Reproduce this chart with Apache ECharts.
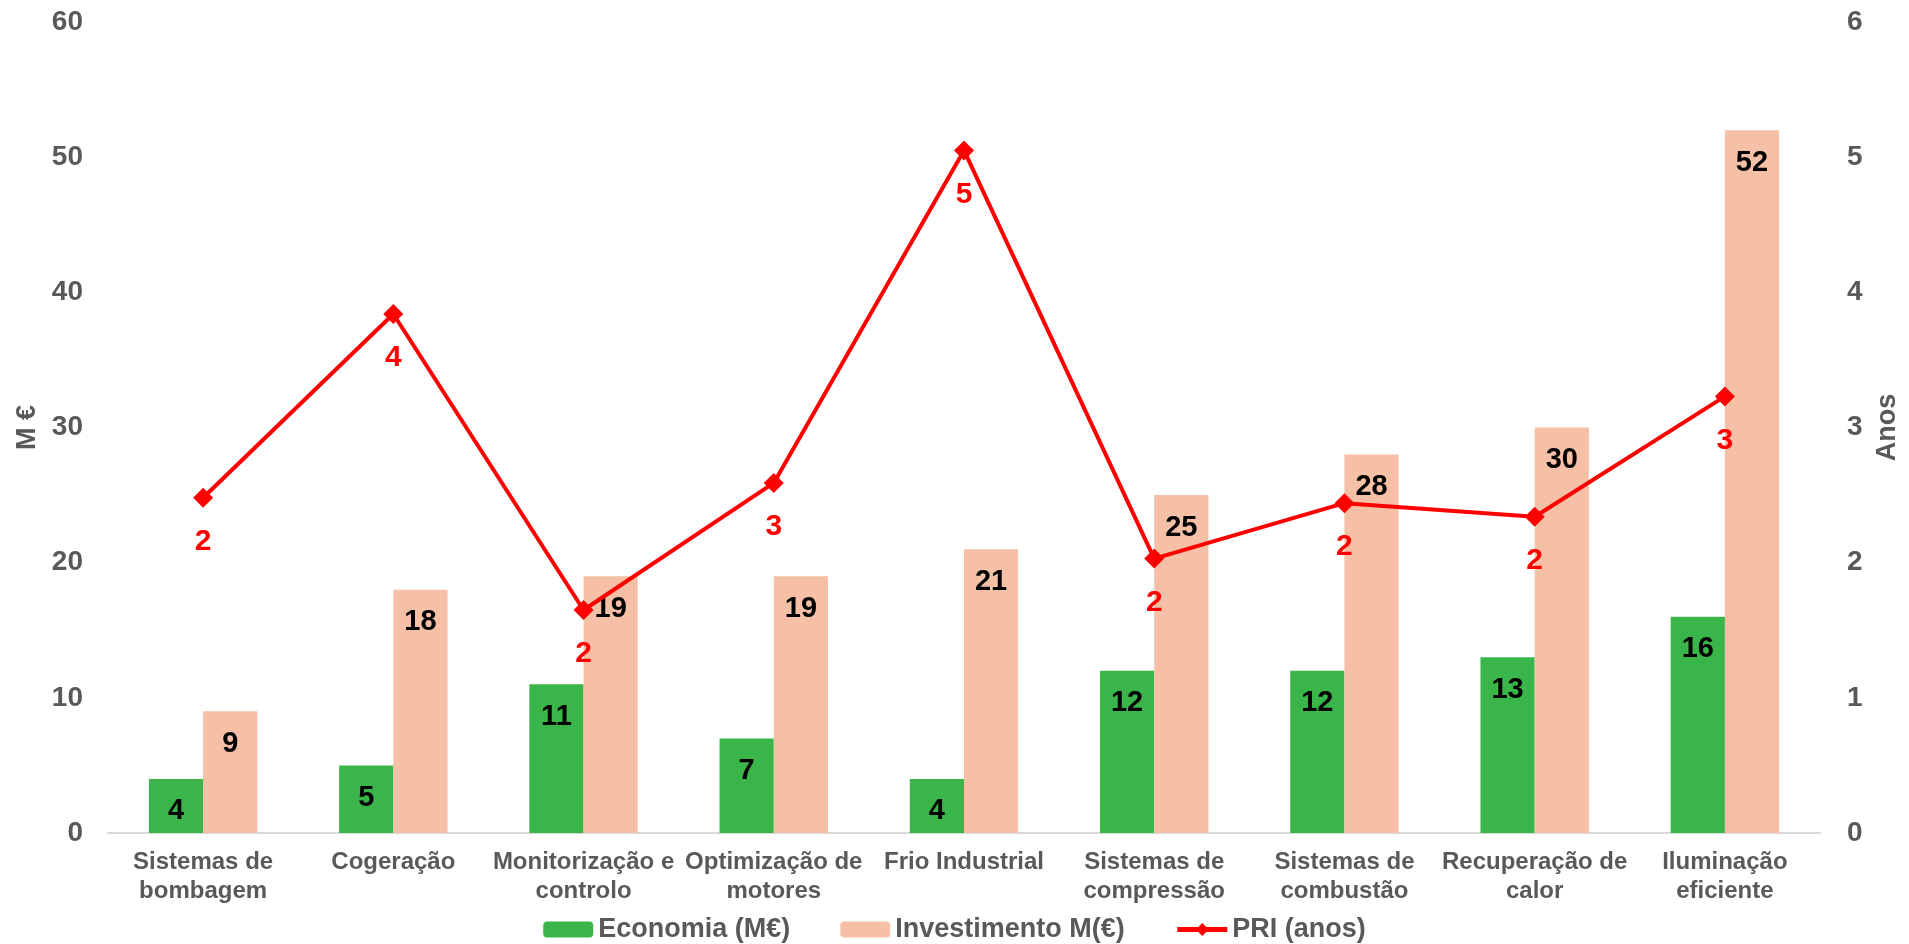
<!DOCTYPE html>
<html>
<head>
    <meta charset="utf-8">
    <title>Economia, Investimento e PRI</title>
    <script src="https://cdn.jsdelivr.net/npm/echarts@6/dist/echarts.min.js"></script>
    <style>
        html, body { margin: 0; padding: 0; background: #fff; }
    </style>
</head>
<body>
  <div id="main" style="width: 1909px;height:944px;"></div>

  <script>
      // dados
      var categorias = ['Sistemas de\nbombagem', 'Cogeração', 'Monitorização e\ncontrolo', 'Optimização de\nmotores',
          'Frio Industrial', 'Sistemas de\ncompressão', 'Sistemas de\ncombustão', 'Recuperação de\ncalor', 'Iluminação\neficiente'];
      var economia = [4, 5, 11, 7, 4, 12, 12, 13, 16];
      var investimento = [9, 18, 19, 19, 21, 25, 28, 30, 52];
      var pri = [2.48, 3.84, 1.65, 2.59, 5.05, 2.03, 2.44, 2.34, 3.23];

      var fonte = 'Arial, "Liberation Sans", sans-serif';
      var cinza = '#595959';

      var myChart = echarts.init(document.getElementById('main'));

      var option = {
          textStyle: { fontFamily: fonte },
          grid: { left: 108, right: 88, top: 22, bottom: 111 },
          legend: {
              top: 911,
              itemWidth: 50,
              itemHeight: 16,
              itemGap: 50,
              textStyle: { fontSize: 27, fontWeight: 'bold', color: cinza, fontFamily: fonte },
              data: ['Economia (M€)', 'Investimento M(€)',
                  { name: 'PRI (anos)', lineStyle: { width: 5 }, itemStyle: { color: '#FF0000' } }]
          },
          xAxis: {
              type: 'category',
              data: categorias,
              axisTick: { show: false },
              axisLine: { lineStyle: { color: '#D9D9D9', width: 2 } },
              axisLabel: {
                  interval: 0, margin: 15, fontSize: 24, fontWeight: 'bold',
                  color: cinza, lineHeight: 29, fontFamily: fonte
              }
          },
          yAxis: [{
              type: 'value', min: 0, max: 60, interval: 10,
              name: 'M €', nameLocation: 'middle', nameGap: 64, nameRotate: 90,
              nameTextStyle: { fontSize: 27, fontWeight: 'bold', color: cinza, fontFamily: fonte },
              splitLine: { show: false },
              axisLine: { show: false },
              axisLabel: { fontSize: 28, fontWeight: 'bold', color: cinza, margin: 25, fontFamily: fonte }
          }, {
              type: 'value', min: 0, max: 6, interval: 1,
              name: 'Anos', nameLocation: 'middle', nameGap: 54, nameRotate: 90,
              nameTextStyle: { fontSize: 27, fontWeight: 'bold', color: cinza, fontFamily: fonte },
              splitLine: { show: false },
              axisLine: { show: false },
              axisLabel: { fontSize: 28, fontWeight: 'bold', color: cinza, margin: 27, fontFamily: fonte }
          }],
          series: [{
              name: 'Economia (M€)',
              type: 'bar',
              data: economia,
              barGap: '0%',
              barCategoryGap: '43%',
              itemStyle: { color: '#39B54A' },
              label: {
                  show: true, position: 'insideTop', distance: 18,
                  fontSize: 29, fontWeight: 'bold', color: '#000', fontFamily: fonte
              }
          }, {
              name: 'Investimento M(€)',
              type: 'bar',
              data: investimento,
              itemStyle: { color: '#F5C0A6' },
              label: {
                  show: true, position: 'insideTop', distance: 18,
                  fontSize: 29, fontWeight: 'bold', color: '#000', fontFamily: fonte
              }
          }, {
              name: 'PRI (anos)',
              type: 'line',
              yAxisIndex: 1,
              data: pri,
              symbol: 'diamond',
              symbolSize: 20,
              z: 5,
              lineStyle: { color: '#FF0000', width: 4 },
              itemStyle: { color: '#FF0000' },
              label: {
                  show: true, position: 'bottom', distance: 19,
                  fontSize: 30, fontWeight: 'bold', color: '#FF0000', fontFamily: fonte,
                  formatter: function (p) { return Math.round(p.value); }
              }
          }]
      };

      myChart.setOption(option);
  </script>
</body>
</html>
